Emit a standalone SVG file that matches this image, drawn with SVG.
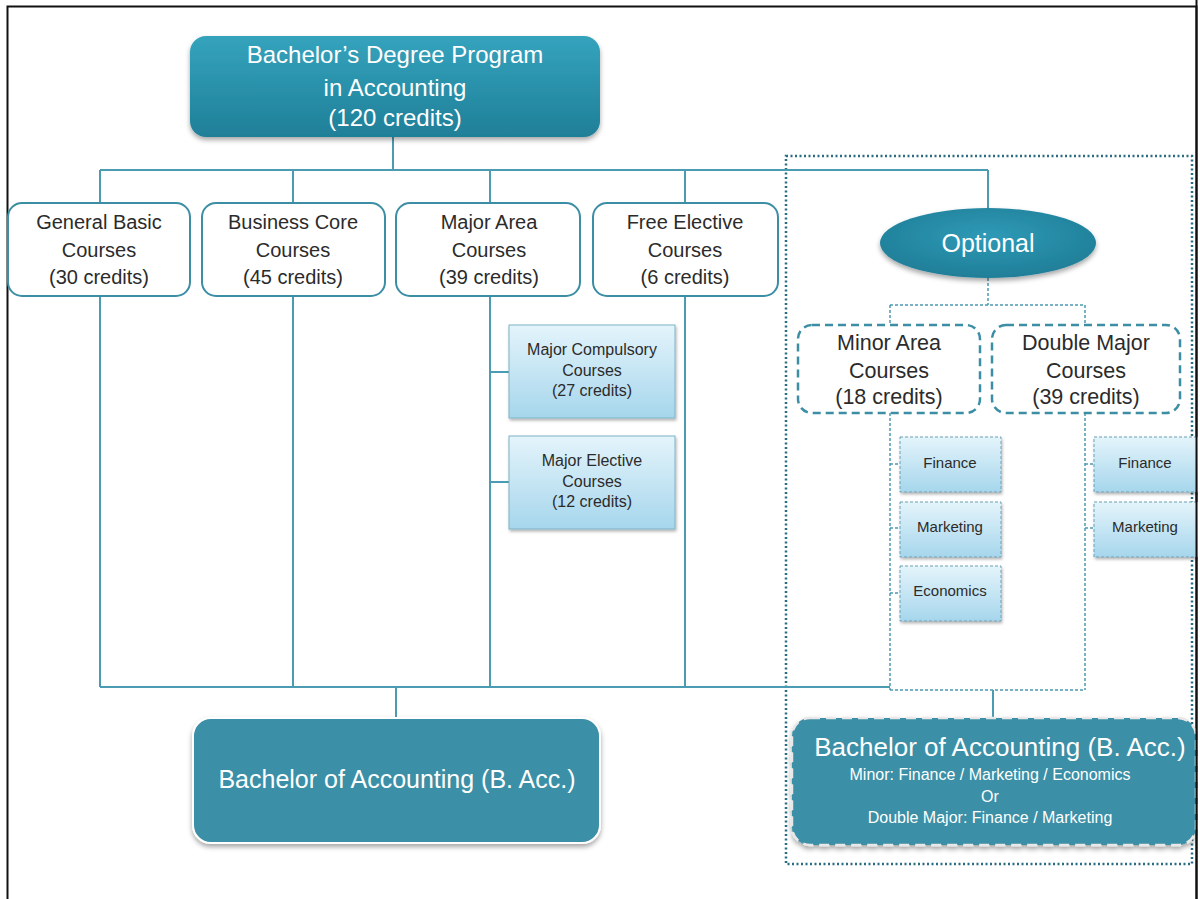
<svg xmlns="http://www.w3.org/2000/svg" width="1200" height="899" viewBox="0 0 1200 899">
<defs>
<linearGradient id="gTop" x1="0" y1="0" x2="0" y2="1"><stop offset="0" stop-color="#35a3bd"/><stop offset="1" stop-color="#1f7f98"/></linearGradient>
<linearGradient id="gSub" x1="0" y1="0" x2="0" y2="1"><stop offset="0" stop-color="#e4f4fb"/><stop offset="1" stop-color="#a6d6ec"/></linearGradient>
<radialGradient id="gEll" cx="0.5" cy="0.4" r="0.6"><stop offset="0" stop-color="#2f9ab6"/><stop offset="1" stop-color="#1f7e98"/></radialGradient>
<filter id="sh" x="-10%" y="-10%" width="120%" height="130%"><feDropShadow dx="0" dy="3" stdDeviation="2.5" flood-color="#000" flood-opacity="0.35"/></filter>
<filter id="sh2" x="-10%" y="-10%" width="120%" height="130%"><feDropShadow dx="1" dy="2" stdDeviation="1.5" flood-color="#000" flood-opacity="0.3"/></filter>
</defs>
<style>
.t{font-family:"Liberation Sans",Arial,sans-serif;text-anchor:middle}
.w{fill:#ffffff}
.d{fill:#2b2b2b}
.big{font-size:24px}
.mid{font-size:20px}
.mid2{font-size:21.5px}
.sm{font-size:16px}
.xs{font-size:15px}
.box{fill:#ffffff;stroke:#3c8ea4;stroke-width:2}
.dbox{fill:#ffffff;stroke:#3c8ea4;stroke-width:2.5;stroke-dasharray:8 5}
.sub{fill:url(#gSub);stroke:#7fb3c6;stroke-width:1}
.dsub{fill:url(#gSub);stroke:#6a9fb3;stroke-width:1;stroke-dasharray:3 2}
.ln{fill:none;stroke:#4b9bb2;stroke-width:2}
.dl{fill:none;stroke:#4b9bb2;stroke-width:1.5;stroke-dasharray:3 2}
</style>
<rect x="0" y="0" width="1200" height="899" fill="#ffffff"/>
<path d="M7.5 905 V6.5 H1196.5 V905" fill="none" stroke="#111" stroke-width="2"/>
<rect id="optional-frame" x="786" y="156" width="406" height="708" fill="none" stroke="#2a6d82" stroke-width="2.5" stroke-dasharray="2 2.5"/>

<g id="connectors">
<path class="ln" d="M393 137 V170 M100 170 H988 M100 170 V203 M293 170 V203 M490 170 V203 M685 170 V203 M988 170 V208"/>
<path class="ln" d="M100 296 V687 M293 296 V687 M490 296 V687 M685 296 V687 M100 687 H890 M396 687 V718"/>
<path class="ln" d="M490 372 H509 M490 482 H509"/>
<path class="dl" d="M988 278 V305 M890 305 H1085 M890 305 V325 M1085 305 V325"/>
<path class="dl" d="M890 413 V690 M1085 413 V690 M890 690 H1085 M890 464 H900 M890 528 H900 M890 593 H900 M1085 464 H1094 M1085 528 H1094"/>
<path class="ln" d="M993 690 V718"/>
</g>

<g id="program">
<rect x="190" y="36" width="410" height="101" rx="16" fill="url(#gTop)" filter="url(#sh)"/>
<text class="t w big" x="395" y="63">Bachelor’s Degree Program</text>
<text class="t w big" x="395" y="96">in Accounting</text>
<text class="t w big" x="395" y="126">(120 credits)</text>
</g>

<g id="general-basic">
<rect class="box" x="8" y="203" width="182" height="93" rx="14"/>
<text class="t d mid" x="99" y="229">General Basic</text>
<text class="t d mid" x="99" y="257">Courses</text>
<text class="t d mid" x="99" y="284">(30 credits)</text>
</g>
<g id="business-core">
<rect class="box" x="202" y="203" width="183" height="93" rx="14"/>
<text class="t d mid" x="293" y="229">Business Core</text>
<text class="t d mid" x="293" y="257">Courses</text>
<text class="t d mid" x="293" y="284">(45 credits)</text>
</g>
<g id="major-area">
<rect class="box" x="396" y="203" width="184" height="93" rx="14"/>
<text class="t d mid" x="489" y="229">Major Area</text>
<text class="t d mid" x="489" y="257">Courses</text>
<text class="t d mid" x="489" y="284">(39 credits)</text>
</g>
<g id="free-elective">
<rect class="box" x="593" y="203" width="185" height="93" rx="14"/>
<text class="t d mid" x="685" y="229">Free Elective</text>
<text class="t d mid" x="685" y="257">Courses</text>
<text class="t d mid" x="685" y="284">(6 credits)</text>
</g>

<g id="major-compulsory">
<rect class="sub" x="509" y="325" width="166" height="93" filter="url(#sh2)"/>
<text class="t d sm" x="592" y="355">Major Compulsory</text>
<text class="t d sm" x="592" y="376">Courses</text>
<text class="t d sm" x="592" y="396">(27 credits)</text>
</g>
<g id="major-elective">
<rect class="sub" x="509" y="436" width="166" height="93" filter="url(#sh2)"/>
<text class="t d sm" x="592" y="466">Major Elective</text>
<text class="t d sm" x="592" y="487">Courses</text>
<text class="t d sm" x="592" y="507">(12 credits)</text>
</g>

<g id="optional">
<ellipse cx="988" cy="243" rx="108" ry="35" fill="url(#gEll)" filter="url(#sh)"/>
<text class="t w" x="988" y="252" style="font-size:25px">Optional</text>
</g>

<g id="minor-area">
<rect class="dbox" x="798" y="325" width="182" height="88" rx="14"/>
<text class="t d mid2" x="889" y="350">Minor Area</text>
<text class="t d mid2" x="889" y="378">Courses</text>
<text class="t d mid2" x="889" y="404">(18 credits)</text>
</g>
<g id="double-major">
<rect class="dbox" x="992" y="325" width="188" height="88" rx="14"/>
<text class="t d mid2" x="1086" y="350">Double Major</text>
<text class="t d mid2" x="1086" y="378">Courses</text>
<text class="t d mid2" x="1086" y="404">(39 credits)</text>
</g>

<g id="minor-finance">
<rect class="dsub" x="900" y="437" width="101" height="55" filter="url(#sh2)"/>
<text class="t d xs" x="950" y="468">Finance</text>
</g>
<g id="minor-marketing">
<rect class="dsub" x="900" y="502" width="101" height="55" filter="url(#sh2)"/>
<text class="t d xs" x="950" y="532">Marketing</text>
</g>
<g id="minor-economics">
<rect class="dsub" x="900" y="566" width="101" height="55" filter="url(#sh2)"/>
<text class="t d xs" x="950" y="596">Economics</text>
</g>
<g id="double-finance">
<rect class="dsub" x="1094" y="437" width="110" height="55" filter="url(#sh2)"/>
<text class="t d xs" x="1145" y="468">Finance</text>
</g>
<g id="double-marketing">
<rect class="dsub" x="1094" y="502" width="110" height="55" filter="url(#sh2)"/>
<text class="t d xs" x="1145" y="532">Marketing</text>
</g>

<g id="bacc">
<rect x="193" y="718" width="407" height="125" rx="18" fill="#3a8fa6" stroke="#ffffff" stroke-width="2" filter="url(#sh)"/>
<text class="t w" x="397" y="788" style="font-size:25px">Bachelor of Accounting (B. Acc.)</text>
</g>
<g id="bacc-optional">
<rect x="792" y="718" width="404" height="127" rx="18" fill="#3a8fa6" stroke="#e8e8e8" stroke-width="2.5" stroke-dasharray="10 6" filter="url(#sh)"/>
<text class="t w" x="1000" y="756" style="font-size:26px">Bachelor of Accounting (B. Acc.)</text>
<text class="t w sm" x="990" y="780">Minor: Finance / Marketing / Economics</text>
<text class="t w sm" x="990" y="802">Or</text>
<text class="t w sm" x="990" y="823">Double Major: Finance / Marketing</text>
</g>
<path d="M1196.5 0 V899" stroke="#111" stroke-width="2"/>
<rect x="1198" y="0" width="2" height="899" fill="#ffffff"/>
</svg>
